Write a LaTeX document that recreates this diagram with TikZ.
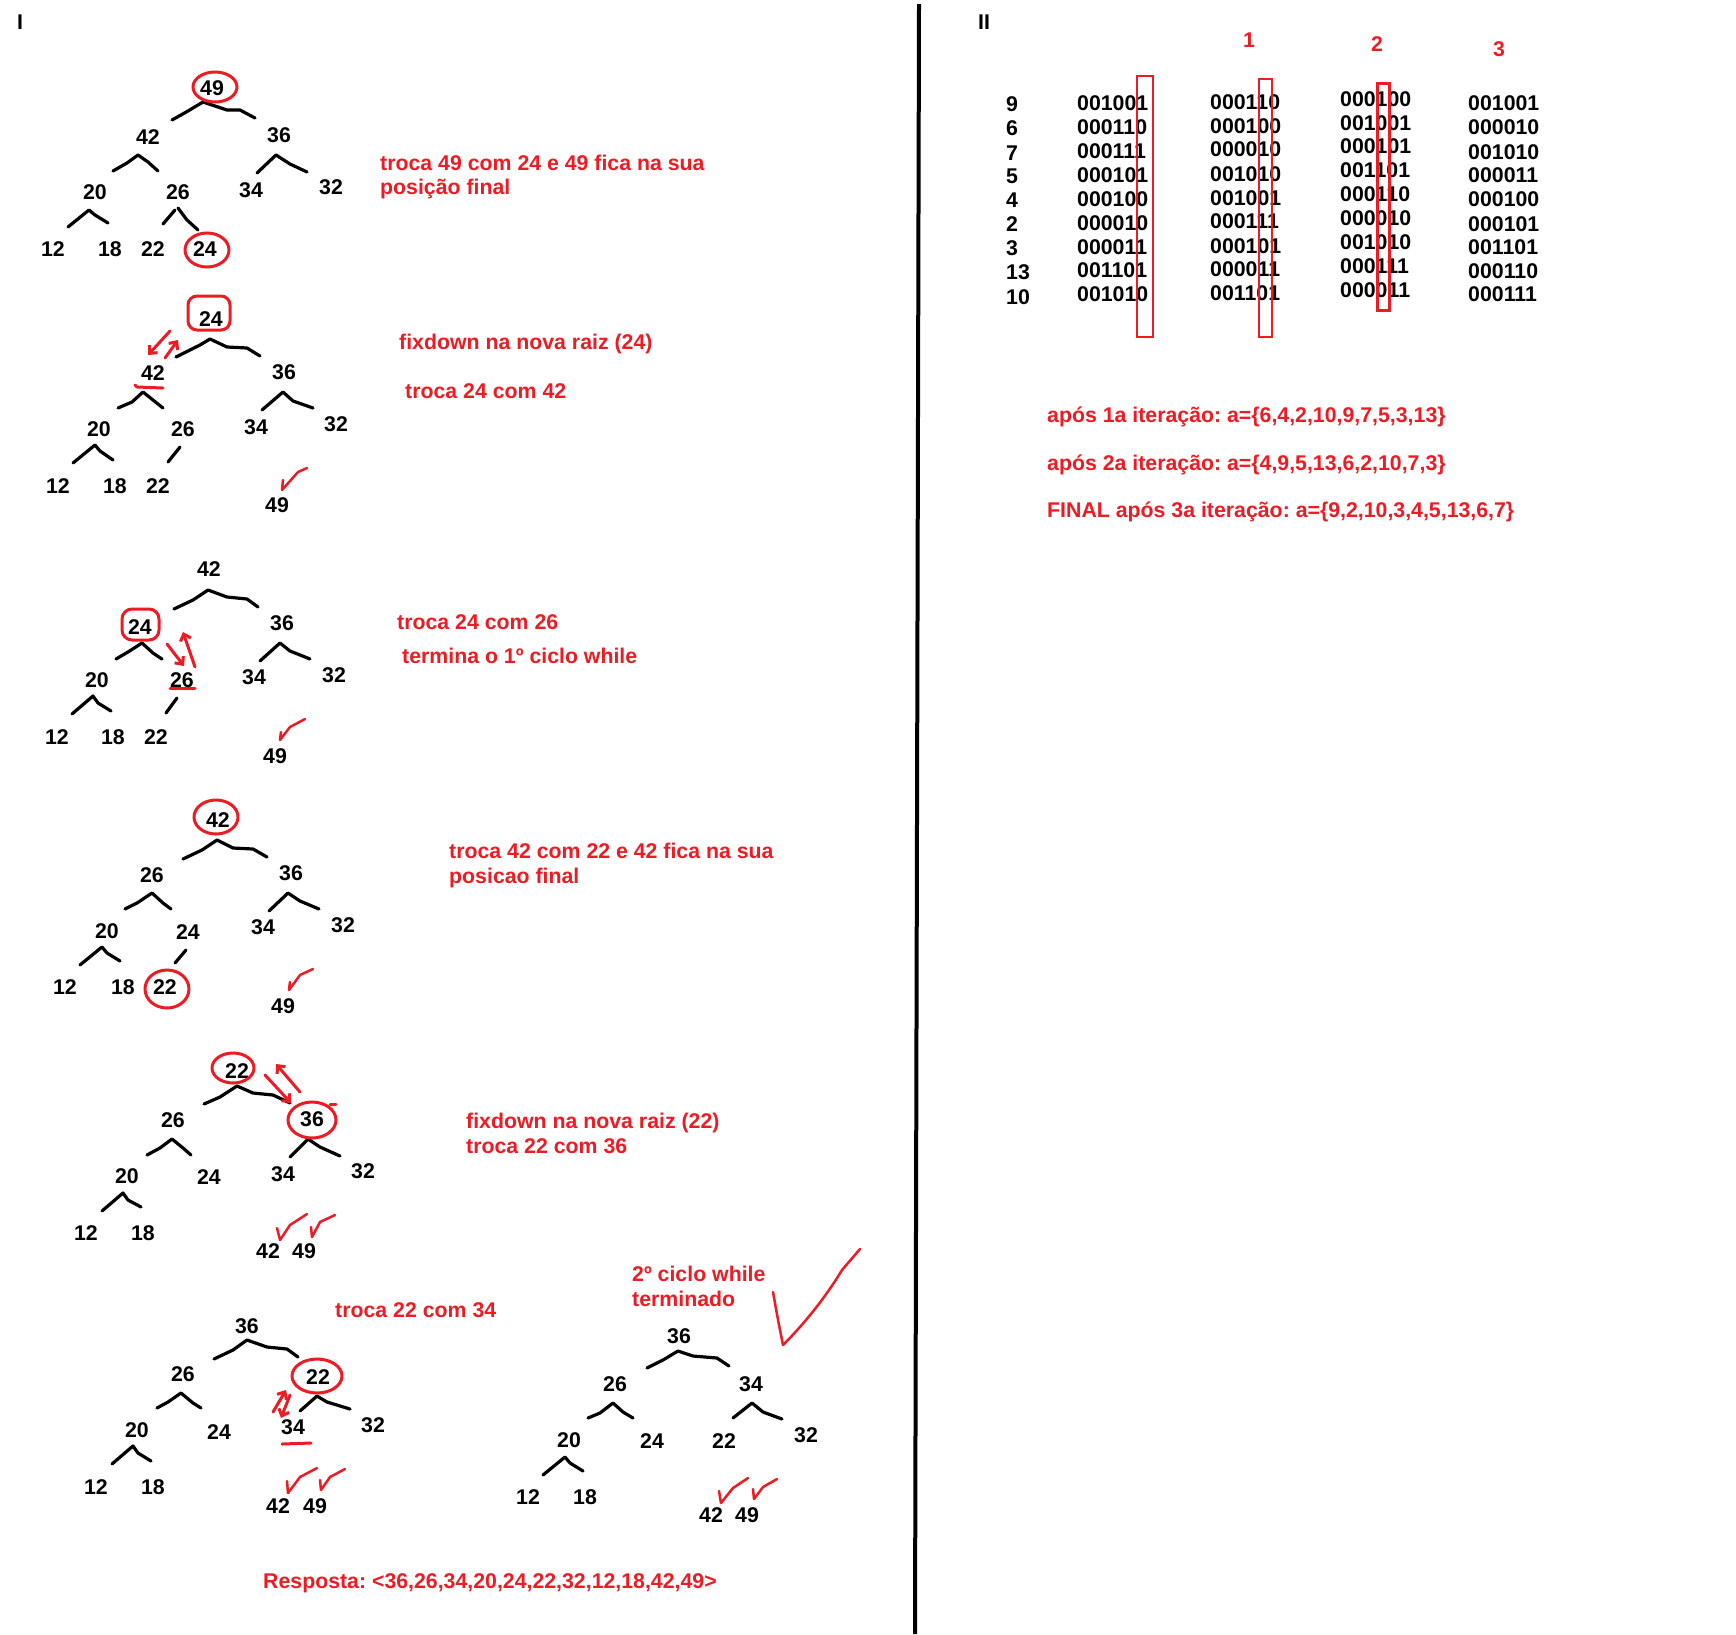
\documentclass[tikz,border=0pt]{standalone}
\usepackage{fontspec}
\setmainfont{Liberation Sans}
\usetikzlibrary{arrows.meta}
\definecolor{pred}{RGB}{237,28,36}
\newcommand\nfont{\fontsize{21.3}{25}\selectfont\bfseries\frenchspacing}
\begin{document}
\begin{tikzpicture}[x=1pt,y=-1pt,
 nm/.style={font=\nfont, inner sep=0pt, text height=15pt, text depth=0pt},
 lb/.style={font=\nfont, text=pred, inner sep=0pt, text height=15pt, text depth=0pt, anchor=west},
 bn/.style={font=\nfont, inner sep=0pt, text height=15pt, text depth=0pt, anchor=west},
 br/.style={line width=3.2pt, line cap=round, line join=round},
 rd/.style={pred, line width=3pt, line cap=round, line join=round},
 ck/.style={pred, line width=2.5pt, line cap=round, line join=round},
 ra/.style={rd, -{Straight Barb[length=6pt,width=11pt]}}]
\fill[white] (0,0) rectangle (1736,1634);
\path[use as bounding box] (0,0) rectangle (1736,1634);

% divider and section marks
\draw[line width=4pt] (919,4) -- (915,1634);
\node[nm] (secI) at (20,22) {I};
\node[nm] (secII) at (984,22) {II};

% ---------------- Tree 1
\node[nm] (a49) at (212,88) {49};
\node[nm] (a42) at (148,137) {42};
\node[nm] (a36) at (279,135) {36};
\node[nm] (a20) at (95,192) {20};
\node[nm] (a26) at (178,192) {26};
\node[nm] (a34) at (251,190) {34};
\node[nm] (a32) at (331,187) {32};
\node[nm] (a12) at (53,249) {12};
\node[nm] (a18) at (110,249) {18};
\node[nm] (a22) at (153,249) {22};
\node[nm] (a24) at (205,249) {24};
\draw[br] (172,120)--(188,111)--(203,102)--(227,110)--(240,110)--(255,118);
\draw[br] (113,171)--(127,163)--(138,155)--(148,162)--(158,171);
\draw[br] (257,173)--(276,155)--(290,164)--(307,172);
\draw[br] (68,227)--(89,210)--(95,215)--(108,223);
\draw[br] (163,224)--(175,210);
\draw[br] (178,208)--(187,220)--(198,230);
\draw[rd] (215,87) ellipse [x radius=22, y radius=15];
\draw[rd] (207,250) ellipse [x radius=22, y radius=17];
\node[lb] (ta1) at (380,163) {troca 49 com 24 e 49 fica na sua};
\node[lb] (ta2) at (380,187) {posição final};

% ---------------- Tree 2
\node[nm] (b24) at (211,319) {24};
\node[nm] (b42) at (153,373) {42};
\node[nm] (b36) at (284,372) {36};
\node[nm] (b20) at (99,429) {20};
\node[nm] (b26) at (183,429) {26};
\node[nm] (b34) at (256,427) {34};
\node[nm] (b32) at (336,424) {32};
\node[nm] (b12) at (58,486) {12};
\node[nm] (b18) at (115,486) {18};
\node[nm] (b22) at (158,486) {22};
\node[nm] (b49) at (277,505) {49};
\draw[br] (176,357)--(200,345)--(210,339)--(227,347)--(247,348)--(260,356);
\draw[br] (118,408)--(132,402)--(143,392)--(153,400)--(163,408);
\draw[br] (262,410)--(283,392)--(293,401)--(313,408);
\draw[br] (73,463)--(95,445)--(100,451)--(113,460);
\draw[br] (168,462)--(180,447);
\draw[rd, rounded corners=9pt] (188,296) rectangle (230,330);
\draw[ra] (170,331) -- (148,355);
\draw[ra] (165,358) -- (178,340);
\draw[rd] (135,385) -- (137,387) -- (163,388);
\draw[ck] (283,480)--(282,490)--(298,472)--(307,468);
\node[lb] (tb1) at (399,342) {fixdown na nova raiz (24)};
\node[lb] (tb2) at (405,391) {troca 24 com 42};

% ---------------- Tree 3
\node[nm] (c42) at (209,569) {42};
\node[nm] (c24) at (140,627) {24};
\node[nm] (c36) at (282,623) {36};
\node[nm] (c20) at (97,680) {20};
\node[nm] (c26) at (182,680) {26};
\node[nm] (c34) at (254,677) {34};
\node[nm] (c32) at (334,675) {32};
\node[nm] (c12) at (57,737) {12};
\node[nm] (c18) at (113,737) {18};
\node[nm] (c22) at (156,737) {22};
\node[nm] (c49) at (275,756) {49};
\draw[br] (174,609)--(193,600)--(208,590)--(227,597)--(247,599)--(258,607);
\draw[br] (116,659)--(128,652)--(142,643)--(153,653)--(162,659);
\draw[br] (260,661)--(280,643)--(290,651)--(310,659);
\draw[br] (72,714)--(93,696)--(98,703)--(111,711);
\draw[br] (166,713)--(177,698);
\draw[rd, rounded corners=10pt] (122,609) rectangle (159,640);
\draw[ra] (167,644) -- (184,666);
\draw[ra] (195,667) -- (183,632);
\draw[rd] (170,688) -- (195,688);
\draw[ck] (281,732)--(280,740)--(290,727)--(305,719);
\node[lb] (tc1) at (397,622) {troca 24 com 26};
\node[lb] (tc2) at (402,656) {termina o 1º ciclo while};

% ---------------- Tree 4
\node[nm] (d42) at (218,820) {42};
\node[nm] (d26) at (152,875) {26};
\node[nm] (d36) at (291,873) {36};
\node[nm] (d20) at (107,931) {20};
\node[nm] (d24) at (188,932) {24};
\node[nm] (d34) at (263,927) {34};
\node[nm] (d32) at (343,925) {32};
\node[nm] (d12) at (65,987) {12};
\node[nm] (d18) at (123,987) {18};
\node[nm] (d22) at (165,987) {22};
\node[nm] (d49) at (283,1006) {49};
\draw[br] (183,859)--(202,850)--(217,840)--(233,848)--(253,849)--(267,857);
\draw[br] (125,909)--(137,903)--(152,893)--(163,903)--(171,909);
\draw[br] (269,911)--(288,893)--(300,901)--(319,909);
\draw[br] (80,965)--(102,947)--(107,953)--(120,961);
\draw[br] (175,963)--(186,950);
\draw[rd] (216,817) ellipse [x radius=22, y radius=17];
\draw[rd] (167,989) ellipse [x radius=22, y radius=19];
\draw[ck] (290,982)--(289,990)--(300,975)--(313,969);
\node[lb] (td1) at (449,851) {troca 42 com 22 e 42 fica na sua};
\node[lb] (td2) at (449,876) {posicao final};

% ---------------- Tree 5
\node[nm] (e22) at (237,1071) {22};
\node[nm] (e26) at (173,1120) {26};
\node[nm] (e36) at (312,1119) {36};
\node[nm] (e20) at (127,1176) {20};
\node[nm] (e24) at (209,1177) {24};
\node[nm] (e34) at (283,1174) {34};
\node[nm] (e32) at (363,1171) {32};
\node[nm] (e12) at (86,1233) {12};
\node[nm] (e18) at (143,1233) {18};
\node[nm] (e42) at (268,1251) {42};
\node[nm] (e49) at (304,1251) {49};
\draw[br] (204,1104)--(220,1097)--(237,1086)--(253,1093)--(273,1095)--(290,1103);
\draw[br] (147,1155)--(160,1148)--(172,1139)--(183,1148)--(191,1155);
\draw[br] (290,1157)--(308,1139)--(320,1147)--(340,1156);
\draw[br] (102,1211)--(123,1193)--(128,1200)--(141,1207);
\draw[rd] (233,1068) ellipse [x radius=21, y radius=15];
\draw[rd] (312,1120) ellipse [x radius=24, y radius=18];
\draw[rd] (330,1104) -- (336,1104);
\draw[ra] (265,1075) -- (291,1103);
\draw[ra] (300,1092) -- (276,1064);
\draw[ck] (277,1228)--(280,1240)--(290,1225)--(307,1214);
\draw[ck] (311,1227)--(312,1237)--(320,1222)--(335,1215);
\node[lb] (te1) at (466,1121) {fixdown na nova raiz (22)};
\node[lb] (te2) at (466,1146) {troca 22 com 36};

% ---------------- Tree 6
\node[nm] (f36) at (247,1326) {36};
\node[nm] (f26) at (183,1374) {26};
\node[nm] (f22) at (318,1377) {22};
\node[nm] (f20) at (137,1430) {20};
\node[nm] (f24) at (219,1432) {24};
\node[nm] (f34) at (293,1427) {34};
\node[nm] (f32) at (373,1425) {32};
\node[nm] (f12) at (96,1487) {12};
\node[nm] (f18) at (153,1487) {18};
\node[nm] (f42) at (278,1506) {42};
\node[nm] (f49) at (315,1506) {49};
\draw[br] (214,1359)--(233,1350)--(247,1340)--(267,1347)--(287,1349)--(298,1357);
\draw[br] (157,1408)--(168,1402)--(181,1393)--(193,1403)--(201,1408);
\draw[br] (300,1411)--(317,1396)--(327,1402)--(350,1409);
\draw[br] (112,1464)--(133,1446)--(138,1453)--(151,1461);
\draw[rd] (317,1376) ellipse [x radius=25, y radius=17];
\draw[ra] (273,1412) -- (286,1390);
\draw[ra] (290,1395) -- (281,1418);
\draw[rd] (282,1444) -- (311,1443);
\draw[ck] (287,1481)--(288,1493)--(300,1477)--(317,1468);
\draw[ck] (320,1480)--(321,1490)--(330,1477)--(345,1469);
\node[lb] (tf1) at (335,1310) {troca 22 com 34};

% ---------------- Tree 7
\node[nm] (g36) at (679,1336) {36};
\node[nm] (g26) at (615,1384) {26};
\node[nm] (g34) at (751,1384) {34};
\node[nm] (g20) at (569,1440) {20};
\node[nm] (g24) at (652,1441) {24};
\node[nm] (g22) at (724,1441) {22};
\node[nm] (g32) at (806,1435) {32};
\node[nm] (g12) at (528,1497) {12};
\node[nm] (g18) at (585,1497) {18};
\node[nm] (g42) at (711,1515) {42};
\node[nm] (g49) at (747,1515) {49};
\draw[br] (647,1368)--(663,1360)--(678,1351)--(693,1356)--(717,1358)--(729,1366);
\draw[br] (588,1418)--(600,1413)--(613,1403)--(623,1412)--(633,1418);
\draw[br] (733,1418)--(752,1403)--(763,1412)--(782,1419);
\draw[br] (543,1475)--(565,1457)--(570,1463)--(583,1471);
\draw[ck] (719,1491)--(721,1503)--(733,1488)--(748,1478);
\draw[ck] (753,1489)--(754,1499)--(763,1487)--(777,1479);
\draw[ck] (773,1292) .. controls (778,1320) .. (783,1345) .. controls (810,1318) and (830,1290) .. (842,1270) -- (860,1249);
\node[lb] (tg1) at (632,1274) {2º ciclo while};
\node[lb] (tg2) at (632,1299) {terminado};

\node[lb] (resp) at (263,1581) {Resposta: <36,26,34,20,24,22,32,12,18,42,49>};

% ---------------- Part II
\node[lb, anchor=center] (h1) at (1249,40) {1};
\node[lb, anchor=center] (h2) at (1377,44) {2};
\node[lb, anchor=center] (h3) at (1499,49) {3};

\foreach \v [count=\i] in {9,6,7,5,4,2,3,13,10} {
  \pgfmathsetmacro\yy{{104,128,153,176,200,224,248,272,297}[\i-1]}
  \node[bn] (ix\i) at (1006,\yy) {\v};
}
\foreach \v [count=\i] in {001001,000110,000111,000101,000100,000010,000011,001101,001010} {
  \pgfmathsetmacro\yy{{103,127,151,175,199,223,247,270,294}[\i-1]}
  \node[bn] (ca\i) at (1077,\yy) {\v};
}
\foreach \v [count=\i] in {000110,000100,000010,001010,001001,000111,000101,000011,001101} {
  \pgfmathsetmacro\yy{{102,126,149,174,198,221,246,269,293}[\i-1]}
  \node[bn] (cb\i) at (1210,\yy) {\v};
}
\foreach \v [count=\i] in {000100,001001,000101,001101,000110,000010,001010,000111,000011} {
  \pgfmathsetmacro\yy{{99,123,146,170,194,218,242,266,290}[\i-1]}
  \node[bn] (cc\i) at (1340,\yy) {\v};
}
\foreach \v [count=\i] in {001001,000010,001010,000011,000100,000101,001101,000110,000111} {
  \pgfmathsetmacro\yy{{103,127,152,175,199,224,247,271,294}[\i-1]}
  \node[bn] (cd\i) at (1468,\yy) {\v};
}
\draw[pred, line width=2pt] (1137,76) rectangle (1153,337);
\draw[pred, line width=2pt] (1259,79) rectangle (1272,337);
\draw[pred, line width=3pt] (1377,83) rectangle (1389,310);

\node[lb] (it1) at (1047,415) {após 1a iteração: a=\{6,4,2,10,9,7,5,3,13\}};
\node[lb] (it2) at (1047,463) {após 2a iteração: a=\{4,9,5,13,6,2,10,7,3\}};
\node[lb] (it3) at (1047,510) {FINAL após 3a iteração: a=\{9,2,10,3,4,5,13,6,7\}};
\end{tikzpicture}
\end{document}
